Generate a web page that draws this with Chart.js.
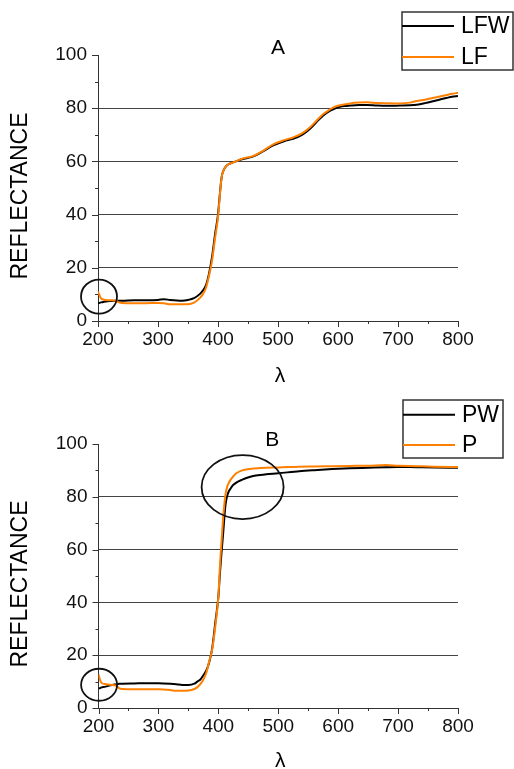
<!DOCTYPE html>
<html>
<head>
<meta charset="utf-8">
<script src="https://cdn.jsdelivr.net/npm/chart.js@4/dist/chart.umd.min.js"></script>
<style>
    body { margin: 0; background: #fff; }
    canvas { display: block; }
</style>
</head>
<body>
<canvas id="chartA" width="514" height="384"></canvas>
<canvas id="chartB" width="514" height="385"></canvas>
<script>
// panel A: wavelength (nm) and reflectance
const waveA = [200, 202, 205, 210, 220, 230, 235, 240, 260, 280, 300, 310, 320, 340, 350, 360, 370, 375, 380, 385,
    390, 395, 400, 403, 406, 410, 414, 420, 430, 440, 458, 475, 492, 510, 525, 540, 553, 565, 575, 585,
    592, 600, 610, 620, 635, 648, 665, 680, 703, 720, 731, 745, 758, 770, 780, 790, 800];
const lfw = [6.8, 6.8, 7, 7.2, 7.5, 7.6, 7.6, 7.6, 7.8, 7.8, 7.9, 8.2, 7.9, 7.6, 7.9, 8.6, 10.2, 11.5, 13.5, 17.8,
    24, 32.5, 40, 47.5, 54, 57, 58.3, 59.2, 60, 60.8, 61.8, 63.8, 66, 67.6, 68.5, 70, 72.2, 75, 77.2, 78.8,
    79.6, 80.3, 80.8, 81, 81.2, 81.2, 81, 80.9, 81, 81.1, 81.3, 81.9, 82.6, 83.3, 83.8, 84.3, 84.6];
const lf = [11, 10, 8.5, 8, 7.8, 7.6, 7, 6.8, 6.7, 6.7, 6.8, 6.7, 6.3, 6.3, 6.3, 6.9, 8.7, 10.2, 12.5, 17,
    22.5, 31, 39, 47, 54, 57, 58.3, 59.2, 60, 61, 62, 64, 66.4, 68, 69, 70.5, 72.7, 75.5, 77.7, 79.3,
    80.2, 80.9, 81.4, 81.8, 82.1, 82.2, 82, 81.9, 81.8, 82.1, 82.7, 83.2, 83.8, 84.4, 84.9, 85.4, 85.8];

// panel B
const waveB = [200, 202, 205, 210, 220, 230, 235, 240, 260, 280, 300, 320, 330, 340, 350, 360, 365, 370, 375, 380,
    385, 390, 395, 400, 403, 405, 408, 410, 412, 415, 418, 420, 424, 430, 440, 452, 460, 480, 500, 535,
    560, 590, 620, 650, 680, 700, 730, 760, 800];
const pw = [7.4, 7.5, 7.8, 8, 8.6, 9, 9.2, 9.2, 9.3, 9.4, 9.4, 9.2, 9, 8.7, 8.7, 9.2, 10, 10.8, 12.4, 14.2,
    17.5, 23, 32.5, 42, 52, 58, 66, 72, 77, 80.5, 82.3, 83, 84.3, 85.4, 86.5, 87.5, 88, 88.5, 88.9, 89.7,
    90.1, 90.5, 90.8, 91, 91.2, 91.3, 91.2, 91.1, 91];
const p = [12.8, 11, 9.5, 9.1, 8.8, 8.4, 7.4, 7.2, 7.1, 7.1, 7.1, 6.8, 6.5, 6.5, 6.6, 7.2, 7.9, 9, 10.8, 13.4,
    17.9, 22.5, 31, 42, 55, 62, 72, 77, 81, 84, 85.5, 86.3, 87.5, 88.9, 90, 90.5, 90.7, 91, 91.1, 91.4,
    91.5, 91.6, 91.7, 91.8, 92, 91.8, 91.6, 91.4, 91.3];

const xTicks = [200, 300, 400, 500, 600, 700, 800];
const yTicks = [0, 20, 40, 60, 80, 100];

const FONT = "'Liberation Sans', Arial, sans-serif";
const AXIS = "#333";

// minor + major tick marks, all pointing outwards
const tickMarks = {
    id: "tickMarks",
    afterDraw(chart) {
        const { ctx, scales: { x, y } } = chart;
        ctx.save();
        ctx.strokeStyle = AXIS;
        ctx.lineWidth = 1;
        for (let v = x.min; v <= x.max; v += 50) {
            const px = Math.round(x.getPixelForValue(v)) + 0.5;
            const len = v % 100 === 0 ? 6 : 3;
            ctx.beginPath();
            ctx.moveTo(px, y.bottom);
            ctx.lineTo(px, y.bottom + len);
            ctx.stroke();
        }
        for (let v = y.min; v <= y.max; v += 10) {
            const py = Math.round(y.getPixelForValue(v)) + 0.5;
            const len = v % 20 === 0 ? 6 : 3;
            ctx.beginPath();
            ctx.moveTo(x.left, py);
            ctx.lineTo(x.left - len, py);
            ctx.stroke();
        }
        ctx.restore();
    }
};

// letter, axis titles, circled regions and the boxed legend
const notes = {
    id: "notes",
    afterDraw(chart, args, opts) {
        const { ctx, chartArea: area, scales: { x, y } } = chart;
        ctx.save();
        ctx.fillStyle = "#000";
        ctx.textAlign = "center";
        ctx.textBaseline = "middle";

        ctx.font = "21px " + FONT;
        ctx.fillText(opts.letter, x.getPixelForValue(opts.letterAt[0]), y.getPixelForValue(opts.letterAt[1]));

        ctx.font = "21px " + FONT;
        ctx.fillText("λ", (area.left + area.right) / 2 + 2, area.bottom + opts.lambdaGap);

        ctx.save();
        ctx.translate(21, (area.top + area.bottom) / 2 + 8);
        ctx.rotate(-Math.PI / 2);
        ctx.font = "23px " + FONT;
        ctx.fillText("REFLECTANCE", 0, 0);
        ctx.restore();

        ctx.strokeStyle = "#111";
        ctx.lineWidth = 1.8;
        opts.rings.forEach(r => {
            ctx.beginPath();
            ctx.ellipse(x.getPixelForValue(r.at[0]), y.getPixelForValue(r.at[1]), r.rx, r.ry, 0, 0, Math.PI * 2);
            ctx.stroke();
        });

        const box = opts.legendBox;
        ctx.strokeStyle = AXIS;
        ctx.lineWidth = 1.5;
        ctx.strokeRect(box.left, box.top, box.width, box.height);
        ctx.textAlign = "left";
        ctx.font = "23px " + FONT;
        chart.data.datasets.forEach((ds, i) => {
            const ly = box.top + box.rows[i];
            ctx.strokeStyle = ds.borderColor;
            ctx.lineWidth = 2;
            ctx.beginPath();
            ctx.moveTo(box.left, ly);
            ctx.lineTo(box.left + 52, ly);
            ctx.stroke();
            ctx.fillStyle = "#000";
            ctx.fillText(ds.label, box.left + 59, ly + 1);
        });
        ctx.restore();
    }
};

function makePanel(id, waves, blackVals, orangeVals, names, pad, notesOpts) {
    const toPoints = vals => vals.map((v, i) => ({ x: waves[i], y: v }));
    return new Chart(document.getElementById(id), {
        type: "line",
        data: {
            datasets: [
                { label: names[0], data: toPoints(blackVals), borderColor: "#000", order: 1 },
                { label: names[1], data: toPoints(orangeVals), borderColor: "#ff8000", order: 0 }
            ]
        },
        options: {
            responsive: false,
            animation: false,
            events: [],
            layout: { padding: { top: pad.top, right: pad.right, left: 0, bottom: 0 } },
            elements: {
                point: { radius: 0 },
                line: { borderWidth: 2, cubicInterpolationMode: "monotone" }
            },
            plugins: { legend: { display: false }, tooltip: { enabled: false }, notes: notesOpts },
            scales: {
                x: {
                    type: "linear",
                    min: 200,
                    max: 800,
                    afterFit: s => { s.height = pad.xHeight; },
                    afterBuildTicks: s => { s.ticks = xTicks.map(v => ({ value: v })); },
                    grid: { color: "transparent", drawTicks: false },
                    border: { display: true, color: AXIS, width: 1 },
                    ticks: { color: "#111", padding: 7, font: { family: FONT, size: 19 } }
                },
                y: {
                    min: 0,
                    max: 100,
                    afterFit: s => { s.width = pad.yWidth; },
                    afterBuildTicks: s => { s.ticks = yTicks.map(v => ({ value: v })); },
                    grid: {
                        drawTicks: false,
                        color: c => (c.tick && c.tick.value > 0 && c.tick.value < 100) ? "#444" : "transparent",
                        lineWidth: 1
                    },
                    border: { display: true, color: AXIS, width: 1 },
                    ticks: { color: "#111", padding: 11, font: { family: FONT, size: 19 } }
                }
            }
        },
        plugins: [tickMarks, notes]
    });
}

makePanel("chartA", waveA, lfw, lf, ["LFW", "LF"],
    { top: 55, right: 56, xHeight: 63, yWidth: 98 },
    {
        letter: "A",
        letterAt: [500, 102.6],
        lambdaGap: 55,
        rings: [{ at: [201.7, 9.2], rx: 18, ry: 17 }],
        legendBox: { left: 402, top: 12, width: 111, height: 58, rows: [14, 45] }
    });

makePanel("chartB", waveB, pw, p, ["PW", "P"],
    { top: 60, right: 56, xHeight: 61, yWidth: 98.5 },
    {
        letter: "B",
        letterAt: [490, 101.5],
        lambdaGap: 53,
        rings: [{ at: [201, 8.8], rx: 18, ry: 16 }, { at: [440.5, 83.7], rx: 41, ry: 32 }],
        legendBox: { left: 403, top: 16, width: 100, height: 58, rows: [14.7, 45] }
    });
</script>
</body>
</html>
